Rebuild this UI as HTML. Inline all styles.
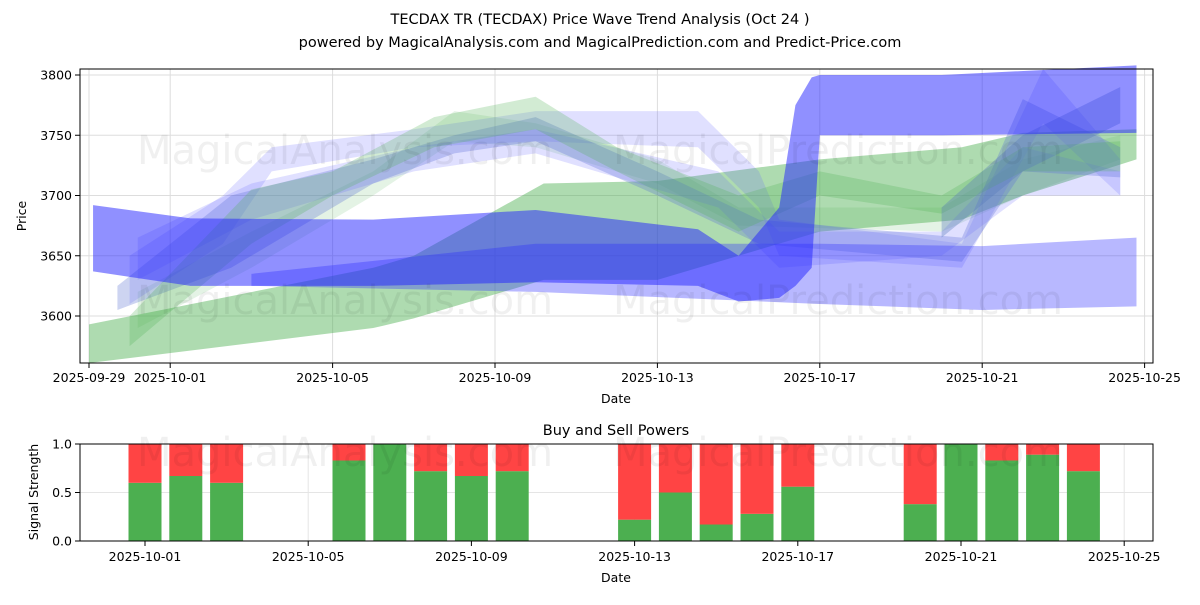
<!DOCTYPE html>
<html><head><meta charset="utf-8"><style>
body{margin:0;background:#fff;font-family:"Liberation Sans","DejaVu Sans",sans-serif}
svg text{font-family:"DejaVu Sans","Liberation Sans",sans-serif}
</style></head><body>
<svg id="c" width="1200" height="600" xmlns="http://www.w3.org/2000/svg"></svg>
<script>
// ---- data ----
const xTickLabels=["2025-09-29","2025-10-01","2025-10-05","2025-10-09","2025-10-13","2025-10-17","2025-10-21","2025-10-25"];
const xTickDays=[0,2,6,10,14,18,22,26];
const yTicks=[3600,3650,3700,3750,3800];
// bands: [day, low, high]
const bandBlueMain=[[0.1,3637,3692],[2.5,3625,3681],[7,3625,3680],[11,3628,3688],[15,3625,3672],[16,3612,3650],[17,3615,3690],[17.4,3625,3775],[17.8,3640,3798],[18,3750,3800],[21,3750,3800],[25.8,3752,3808]];
const bandBlueLow=[[4,3625,3635],[11,3620,3660],[18,3610,3660],[22,3605,3658],[25.8,3608,3665]];
const bandGreenLow=[[0,3561,3593],[7,3590,3640],[8,3598,3650],[11.2,3630,3710],[14,3630,3712],[18,3670,3730],[21.5,3680,3740],[23,3700,3752],[25.8,3730,3755]];
const waveBlue1=[[1,3610,3650],[3.3,3660,3700],[4.5,3720,3740],[8,3740,3755],[11,3745,3770],[15,3740,3770],[16.5,3690,3720],[17,3650,3680],[21.5,3640,3660],[23.5,3760,3805],[25.4,3700,3730]];
const waveGreen1=[[1,3575,3600],[4,3660,3705],[6,3700,3720],[8.5,3740,3765],[11,3755,3782],[13,3720,3740],[16,3670,3700],[18,3700,3720],[21,3685,3700],[23,3720,3740],[25.4,3720,3745]];
const waveBlue2=[[0.7,3605,3625],[3.5,3640,3700],[7,3710,3730],[9,3735,3750],[11,3745,3765],[14,3700,3720],[16.5,3660,3680],[21.5,3645,3665],[23,3720,3780],[25.4,3715,3740]];
const waveBlue3=[[1.2,3630,3665],[4,3680,3710],[8,3720,3740],[11,3735,3755],[15.5,3690,3720],[17,3640,3670],[21,3650,3670],[23,3700,3740],[25.4,3700,3720]];
const waveGreen2=[[1.2,3590,3620],[4,3640,3670],[7,3700,3720],[9,3745,3770],[11,3740,3760],[14,3710,3730],[16,3675,3690],[21,3670,3690],[23,3700,3730],[25.4,3730,3750]];
const waveBlue4=[[21,3665,3690],[23,3720,3750],[25.4,3760,3790]];
const barDays=[2,3,4,7,8,9,10,11,14,15,16,17,18,21,22,23,24,25];
const buyPower=[0.6,0.67,0.6,0.83,1.0,0.72,0.67,0.72,0.22,0.5,0.17,0.28,0.56,0.38,1.0,0.83,0.89,0.72];
const bTickLabels=["2025-10-01","2025-10-05","2025-10-09","2025-10-13","2025-10-17","2025-10-21","2025-10-25"];
const bTickDays=[2,6,10,14,18,22,26];
// ---- scales ----
const S=document.getElementById('c'),NS="http://www.w3.org/2000/svg";
const X=d=>89+d*40.6, Y=v=>75+(3800-v)*1.205;
const XB=d=>145+(d-2)*40.8, YB=v=>541-v*97;
function mk(t,a,p){const e=document.createElementNS(NS,t);for(const k in a)e.setAttribute(k,a[k]);(p||S).appendChild(e);return e;}
function txt(x,y,s,o,p){const e=mk('text',Object.assign({x:x,y:y,'font-size':12.5,fill:'#000'},o||{}),p);e.textContent=s;return e;}
let t=txt(600,24,"TECDAX TR (TECDAX) Price Wave Trend Analysis (Oct 24 )",{'text-anchor':'middle','font-size':14.5});


t=txt(600,47,"powered by MagicalAnalysis.com and MagicalPrediction.com and Predict-Price.com",{'text-anchor':'middle','font-size':14.5});


const topG=mk('g',{});


xTickDays.forEach((d,i)=>{mk('line',{x1:X(d),x2:X(d),y1:69,y2:363,stroke:'#ddd'},topG);mk('line',{x1:X(d),x2:X(d),y1:363,y2:368,stroke:'#000'},topG);
 const l=txt(X(d),382,xTickLabels[i],{'text-anchor':'middle'},topG);
 
 });
yTicks.forEach(v=>{mk('line',{x1:80,x2:1153,y1:Y(v),y2:Y(v),stroke:'#ddd'},topG);mk('line',{x1:75,x2:80,y1:Y(v),y2:Y(v),stroke:'#000'},topG);
 const l=txt(72,Y(v)+4.5,String(v),{'text-anchor':'end'},topG);
 
 });
[[345,150],[838,150],[345,300],[838,300]].forEach((p,i)=>{const w=txt(p[0],p[1]+14,i%2?"MagicalPrediction.com":"MagicalAnalysis.com",{'text-anchor':'middle','font-size':40,fill:'#000','fill-opacity':0.06});
 
 });
function band(arr,col,op,name){const pts=arr.map(p=>X(p[0])+','+Y(p[2])).concat(arr.slice().reverse().map(p=>X(p[0])+','+Y(p[1])));
 const e=mk('polygon',{points:pts.join(' '),fill:col,'fill-opacity':op},topG);
 
 }
band(bandGreenLow,'#4caf50',0.45,'green-band-low');
band(waveGreen2,'#4caf50',0.15,'green-wave-2');
band(waveBlue1,'#6666ff',0.2,'blue-wave-1');
band(waveBlue2,'#5a6fd0',0.3,'blue-wave-2');
band(waveBlue3,'#6666ff',0.2,'blue-wave-3');
band(waveGreen1,'#4caf50',0.25,'green-wave-1');
band(waveBlue4,'#5577bb',0.35,'blue-wave-4');
band(bandBlueLow,'#3333ff',0.35,'blue-band-low');
band(bandBlueMain,'#2222ff',0.5,'blue-band-main');
mk('rect',{x:80,y:69,width:1073,height:294,fill:'none',stroke:'#000'},topG);
t=txt(616,403,"Date",{'text-anchor':'middle'});


t=txt(26,216,"Price",{'text-anchor':'middle',transform:'rotate(-90 26 216)'});


const bot=mk('g',{});


t=txt(616,435,"Buy and Sell Powers",{'text-anchor':'middle','font-size':14.5});


bTickDays.forEach((d,i)=>{mk('line',{x1:XB(d),x2:XB(d),y1:444,y2:541,stroke:'#e5e5e5'},bot);mk('line',{x1:XB(d),x2:XB(d),y1:541,y2:546,stroke:'#000'},bot);
 const l=txt(XB(d),561,bTickLabels[i],{'text-anchor':'middle'},bot);
 
 });
[0,0.5,1].forEach(v=>{mk('line',{x1:80,x2:1153,y1:YB(v),y2:YB(v),stroke:'#e5e5e5'},bot);mk('line',{x1:75,x2:80,y1:YB(v),y2:YB(v),stroke:'#000'},bot);
 const l=txt(72,YB(v)+4.5,v.toFixed(1),{'text-anchor':'end'},bot);
 
 });
[[345,452],[838,452]].forEach((p,i)=>{const w=txt(p[0],p[1]+14,i?"MagicalPrediction.com":"MagicalAnalysis.com",{'text-anchor':'middle','font-size':40,fill:'#000','fill-opacity':0.06});
 
 });
barDays.forEach((d,i)=>{const b=buyPower[i],x=XB(d)-16.5;
 const g=mk('rect',{x:x,y:YB(b),width:33,height:YB(0)-YB(b),fill:'#4caf50'},bot);
 
 
 const r=mk('rect',{x:x,y:YB(1),width:33,height:YB(b)-YB(1),fill:'#ff4444'},bot);
 
 });
mk('rect',{x:80,y:444,width:1073,height:97,fill:'none',stroke:'#000'},bot);
t=txt(616,582,"Date",{'text-anchor':'middle'});


t=txt(38,492,"Signal Strength",{'text-anchor':'middle',transform:'rotate(-90 38 492)'});


</script>
</body></html>
